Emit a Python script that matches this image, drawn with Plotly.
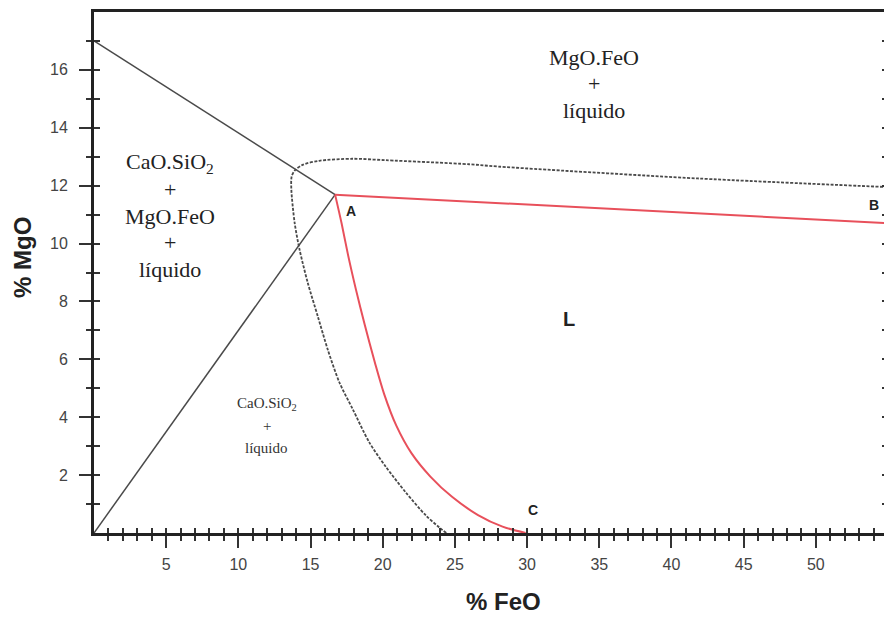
import plotly.graph_objects as go

# ---- data ----
upper_line_x = [0.0, 16.7]
upper_line_y = [17.0, 11.69]
lower_line_x = [0.0, 16.7]
lower_line_y = [0.0, 11.69]

red_ab_x = [16.7, 55.0]
red_ab_y = [11.69, 10.7]

red_ac_x = [16.7, 17.15, 17.6, 18.15, 18.75, 19.45, 20.1, 20.95, 22.0, 23.3, 24.8, 26.6, 28.3, 29.9]
red_ac_y = [11.69, 10.7, 9.6, 8.4, 7.2, 5.9, 4.8, 3.7, 2.75, 1.95, 1.25, 0.62, 0.22, 0.0]

dash_x = [24.4, 23.9, 23.0, 21.6, 20.2, 19.07, 17.92, 17.0, 16.19, 15.5, 14.81, 14.24, 13.9,
          13.67, 13.69, 13.9, 14.45, 15.6, 17.9, 20.2, 26.0, 28.0, 41.8, 55.0]
dash_y = [0.0, 0.2, 0.6, 1.4, 2.3, 3.13, 4.28, 5.2, 6.34, 7.49, 8.64, 9.79, 10.71,
          11.86, 12.31, 12.52, 12.72, 12.86, 12.93, 12.88, 12.74, 12.66, 12.25, 11.95]

x_ticks = [5, 10, 15, 20, 25, 30, 35, 40, 45, 50]
y_ticks = [2, 4, 6, 8, 10, 12, 14, 16]
x_minor = list(range(1, 55))
y_minor = list(range(1, 18))

# region labels (lines of text) and their anchor points in data units
label_top_lines = ["MgO.FeO", "+", "líquido"]
label_top_pos = (34.6, 15.52)
label_left_lines = ["CaO.SiO<sub>2</sub>", "+", "MgO.FeO", "+", "líquido"]
label_left_pos = (5.28, 10.95)
label_small_lines = ["CaO.SiO<sub>2</sub>", "+", "líquido"]
label_small_pos = (11.96, 3.69)
point_labels = ["L", "A", "B", "C"]
point_x = [32.9, 17.8, 54.0, 30.4]
point_y = [7.38, 11.14, 11.34, 0.79]

fig = go.Figure()
GREY = "#4a4a4a"
RED = "#e8505b"

fig.add_trace(go.Scatter(x=upper_line_x, y=upper_line_y, mode="lines",
                         line=dict(color=GREY, width=1.5), hoverinfo="skip"))
fig.add_trace(go.Scatter(x=lower_line_x, y=lower_line_y, mode="lines",
                         line=dict(color=GREY, width=1.5), hoverinfo="skip"))
fig.add_trace(go.Scatter(x=dash_x, y=dash_y, mode="lines",
                         line=dict(color=GREY, width=1.8, dash="3px,1.5px",
                                   shape="spline", smoothing=0.8), hoverinfo="skip"))
fig.add_trace(go.Scatter(x=red_ab_x, y=red_ab_y, mode="lines",
                         line=dict(color=RED, width=2), hoverinfo="skip"))
fig.add_trace(go.Scatter(x=red_ac_x, y=red_ac_y, mode="lines",
                         line=dict(color=RED, width=2, shape="spline", smoothing=0.8),
                         hoverinfo="skip"))
# invisible trace for overlay axes
fig.add_trace(go.Scatter(x=[0, 55], y=[0, 18], mode="markers", xaxis="x2", yaxis="y2",
                         marker=dict(opacity=0), hoverinfo="skip"))

tickfont = dict(family="Liberation Sans, Arial", size=16, color="#444")
serif = "Liberation Serif, Times New Roman"
sans = "Liberation Sans, Arial"

# the page body has an 8px margin, so the figure is 8px smaller and margins shifted
fig.update_layout(
    width=884, height=609,
    margin=dict(l=86, r=1, t=4, b=84, pad=0),
    paper_bgcolor="white", plot_bgcolor="white",
    showlegend=False,
    xaxis=dict(range=[0, 55], tickvals=x_ticks, ticks="outside", ticklen=12, tickwidth=1.5,
               tickcolor="#333", showgrid=False, zeroline=False, showline=True,
               linecolor="#222", linewidth=3, mirror=True, tickfont=tickfont,
               ticklabelstandoff=3,
               minor=dict(tickvals=x_minor, ticks="outside", ticklen=5, tickwidth=1.5,
                          tickcolor="#333")),
    yaxis=dict(range=[0, 18], tickvals=y_ticks, ticks="outside", ticklen=12, tickwidth=1.5,
               tickcolor="#333", showgrid=False, zeroline=False, showline=True,
               linecolor="#222", linewidth=3, mirror=True, tickfont=tickfont,
               ticklabelstandoff=8,
               minor=dict(tickvals=y_minor, ticks="outside", ticklen=5, tickwidth=1.5,
                          tickcolor="#333")),
    xaxis2=dict(range=[0, 55], overlaying="x", anchor="y2", tickvals=x_minor, ticks="inside",
                ticklen=5, tickwidth=1.5, tickcolor="#333", showticklabels=False,
                showgrid=False, zeroline=False, showline=False),
    yaxis2=dict(range=[0, 18], overlaying="y", anchor="x2", tickvals=y_minor, ticks="inside",
                ticklen=6, tickwidth=1.5, tickcolor="#333", showticklabels=False,
                showgrid=False, zeroline=False, showline=False, mirror="ticks"),
)


def add_block(lines, pos, size, spacing, color):
    n = len(lines)
    for i, t in enumerate(lines):
        fig.add_annotation(xref="x", yref="y", x=pos[0], y=pos[1],
                           yshift=((n - 1) / 2 - i) * spacing, text=t, showarrow=False,
                           xanchor="center", yanchor="middle",
                           font=dict(family=serif, size=size, color=color))


add_block(label_top_lines, label_top_pos, 22, 26.5, "#222")
add_block(label_left_lines, label_left_pos, 22, 26.7, "#222")
add_block(label_small_lines, label_small_pos, 15, 22, "#333")

point_sizes = [20, 14, 14, 14]
for t, px, py, s in zip(point_labels, point_x, point_y, point_sizes):
    fig.add_annotation(xref="x", yref="y", x=px, y=py, text="<b>%s</b>" % t,
                       showarrow=False, xanchor="center", yanchor="middle",
                       font=dict(family=sans, size=s, color="#222"))

fig.add_annotation(xref="x", yref="paper", x=28.4, y=0, yshift=-68, showarrow=False,
                   text="<b>% FeO</b>", xanchor="center", yanchor="middle",
                   font=dict(family=sans, size=24, color="#222"))
fig.add_annotation(xref="paper", yref="y", x=0, xshift=-72, y=9.5, showarrow=False,
                   text="<b>% MgO</b>", textangle=-90, xanchor="center", yanchor="middle",
                   font=dict(family=sans, size=24, color="#222"))

fig.write_html("out.html")
